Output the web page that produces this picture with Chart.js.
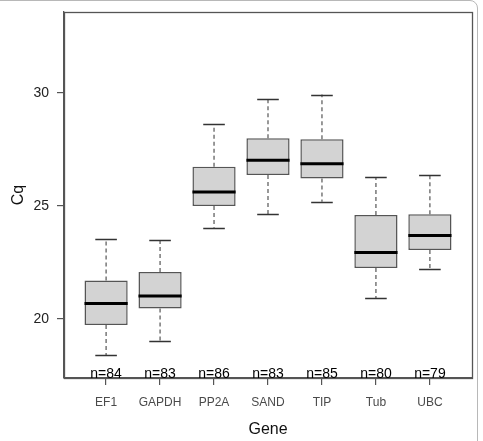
<!DOCTYPE html>
<html><head><meta charset="utf-8">
<script src="https://cdn.jsdelivr.net/npm/chart.js@4"></script>
<style>
html,body{margin:0;padding:0;background:#fff;}
#wrap{position:relative;width:483px;height:441px;overflow:hidden;background:#fff;}
#frame{position:absolute;left:-20px;top:0;width:498px;height:480px;border:1px solid #b8b8b8;border-radius:8px;box-sizing:border-box;pointer-events:none;}
canvas{position:absolute;left:0;top:0;}
</style></head><body>
<div id="wrap"><canvas id="c" width="483" height="441"></canvas><div id="frame"></div></div>
<script>
const genes = ['EF1','GAPDH','PP2A','SAND','TIP','Tub','UBC'];
const whiskerLow  = [18.39, 19.01, 24.04, 24.63, 25.19, 20.91, 22.20];
const q1          = [19.73, 20.46, 25.00, 26.37, 26.21, 22.26, 23.05];
const median      = [20.69, 21.02, 25.62, 27.02, 26.87, 22.94, 23.69];
const q3          = [21.70, 22.08, 26.74, 27.99, 27.95, 24.60, 24.63];
const whiskerHigh = [23.55, 23.50, 28.63, 29.73, 29.93, 26.27, 26.39];
const counts      = [84, 83, 86, 83, 85, 80, 79];
const yTicks      = [20, 25, 30];

const FONT = "'Liberation Sans', Arial, sans-serif";

const boxPlugin = {
  id: 'boxExtras',
  afterDatasetsDraw(chart) {
    const ctx = chart.ctx;
    const xs = chart.scales.x, ys = chart.scales.y;
    const ca = chart.chartArea;
    ctx.save();
    genes.forEach((g, i) => {
      const xc = xs.getPixelForValue(i + 1);
      const halfBox = xs.getPixelForValue(i + 1 + 0.4) - xc;
      const halfCap = xs.getPixelForValue(i + 1 + 0.2) - xc;
      ctx.strokeStyle = '#555';
      ctx.lineWidth = 1.2;
      ctx.setLineDash([4, 3]);
      ctx.beginPath();
      ctx.moveTo(xc, ys.getPixelForValue(q3[i]));
      ctx.lineTo(xc, ys.getPixelForValue(whiskerHigh[i]));
      ctx.moveTo(xc, ys.getPixelForValue(q1[i]));
      ctx.lineTo(xc, ys.getPixelForValue(whiskerLow[i]));
      ctx.stroke();
      ctx.setLineDash([]);
      ctx.lineWidth = 1.3;
      ctx.strokeStyle = '#333';
      ctx.beginPath();
      const yh = Math.round(ys.getPixelForValue(whiskerHigh[i])) + 0.5;
      const yl = Math.round(ys.getPixelForValue(whiskerLow[i])) + 0.5;
      ctx.moveTo(xc - halfCap, yh); ctx.lineTo(xc + halfCap, yh);
      ctx.moveTo(xc - halfCap, yl); ctx.lineTo(xc + halfCap, yl);
      ctx.stroke();
      ctx.lineWidth = 3;
      ctx.strokeStyle = '#000';
      ctx.beginPath();
      const ym = ys.getPixelForValue(median[i]);
      ctx.moveTo(xc - halfBox, ym); ctx.lineTo(xc + halfBox, ym);
      ctx.stroke();
    });
    ctx.strokeStyle = '#555';
    ctx.lineWidth = 1.3;
    ctx.strokeRect(Math.round(ca.left) + 0.5, Math.round(ca.top) + 0.5,
                   Math.round(ca.right - ca.left), Math.round(ca.bottom - ca.top));
    ctx.fillStyle = '#000';
    ctx.font = '14px ' + FONT;
    ctx.textAlign = 'center';
    ctx.textBaseline = 'middle';
    genes.forEach((g, i) => {
      ctx.fillText('n=' + counts[i], xs.getPixelForValue(i + 1), ca.bottom - 4);
    });
    ctx.restore();
  }
};

new Chart(document.getElementById('c'), {
  type: 'bar',
  data: {
    datasets: [{
      data: genes.map((g, i) => ({ x: i + 1, y: [q1[i], q3[i]] })),
      backgroundColor: '#d3d3d3',
      borderColor: '#555',
      borderWidth: 1.5,
      borderSkipped: false,
      categoryPercentage: 1,
      barPercentage: 0.8
    }]
  },
  options: {
    responsive: false,
    animation: false,
    devicePixelRatio: 1,
    layout: { padding: { left: 0, top: 12, right: 11, bottom: 0 } },
    plugins: { legend: { display: false }, tooltip: { enabled: false } },
    scales: {
      x: {
        type: 'linear',
        min: 0.22, max: 7.78,
        offset: false,
        afterBuildTicks: (s) => { s.ticks = genes.map((g, i) => ({ value: i + 1 })); },
        afterFit: (s) => { s.height = 63; s.paddingLeft = 0; s.paddingRight = 0; },
        grid: { offset: false, drawOnChartArea: false, drawTicks: true, tickLength: 7, color: '#555', lineWidth: 1.2 },
        border: { display: true, color: '#555', width: 1.3 },
        ticks: {
          autoSkip: false, maxRotation: 0, padding: 10,
          color: '#4a4a4a', font: { family: FONT, size: 12 },
          callback: (v) => genes[Math.round(v) - 1]
        },
        title: { display: true, text: 'Gene', color: '#111', font: { family: FONT, size: 16 }, padding: { top: 0, bottom: 2 } }
      },
      y: {
        type: 'linear',
        min: 17.39, max: 33.58,
        afterBuildTicks: (s) => { s.ticks = yTicks.map(v => ({ value: v })); },
        afterFit: (s) => { s.width = 64; s.paddingTop = 0; s.paddingBottom = 0; },
        grid: { drawOnChartArea: false, drawTicks: true, tickLength: 7, color: '#555', lineWidth: 1.2 },
        border: { display: true, color: '#555', width: 1.3 },
        ticks: { padding: 8, color: '#222', font: { family: FONT, size: 14 } },
        title: { display: true, text: 'Cq', color: '#111', font: { family: FONT, size: 16 }, padding: { top: 9, bottom: 0 } }
      }
    }
  },
  plugins: [boxPlugin]
});
</script>
</body></html>
